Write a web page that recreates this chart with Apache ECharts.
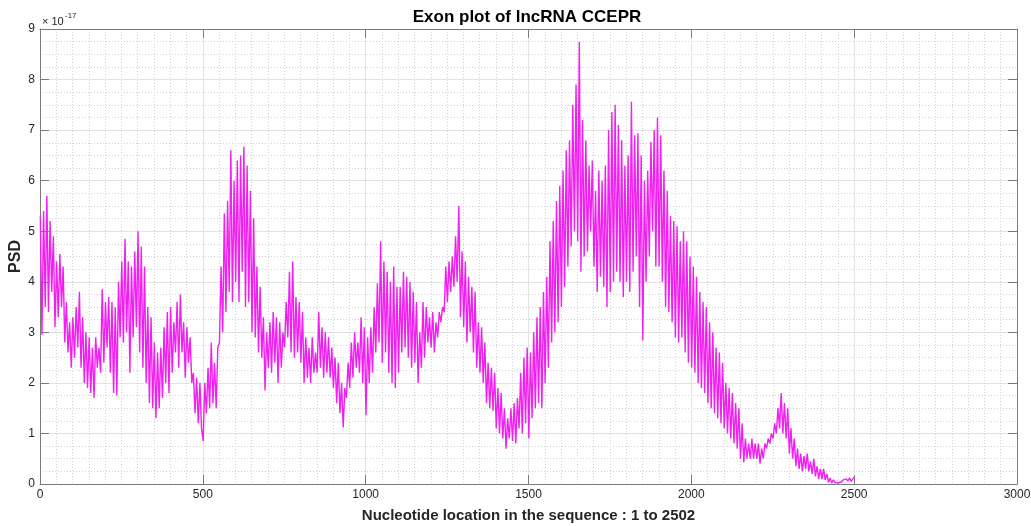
<!DOCTYPE html>
<html>
<head>
<meta charset="utf-8">
<title>Exon plot of lncRNA CCEPR</title>
<script src="https://cdn.jsdelivr.net/npm/echarts@6/dist/echarts.min.js"></script>
<style>
  html, body { margin: 0; padding: 0; background: #ffffff; }
  #chart { width: 1031px; height: 526px; }
</style>
</head>
<body>
<div id="chart"></div>
<script>
// Power spectral density along the sequence, in units of 1e-17,
// sampled every 5 nucleotides starting at position 1.
const startPos = 1;
const stepNt = 5;
const psd = [
  5.3,2.95,5.4,3.5,5.7,3.4,5.2,3.8,4.9,3.1,4.4,3.3,4.55,3.5,4.3,2.8,3.6,2.6,3.2,2.3,
  3.3,2.5,3.5,2.7,3.8,2.3,3.3,2.0,3.0,1.9,2.9,1.8,2.7,1.7,2.9,2.3,2.7,2.2,3.85,2.4,
  3.6,2.7,3.7,2.2,3.6,1.8,3.5,1.75,4.0,2.9,4.4,2.8,4.85,3.0,4.4,2.2,4.3,2.9,4.6,3.1,
  5.0,2.6,4.7,2.3,4.3,2.0,3.5,1.6,3.3,1.5,2.8,1.3,2.6,1.5,2.7,1.7,3.1,2.0,3.4,1.8,
  3.5,2.2,3.2,2.6,3.6,2.3,3.75,2.6,3.2,2.1,3.1,2.4,2.9,2.0,2.2,1.4,2.1,1.2,2.0,1.1,
  0.85,2.0,1.4,2.3,1.5,2.8,1.6,2.4,1.5,2.7,2.8,4.3,3.0,5.35,3.4,5.6,3.8,6.6,3.6,6.0,
  4.0,6.4,3.6,6.5,4.2,6.67,3.5,6.3,3.6,5.8,3.0,5.26,2.9,4.3,2.6,3.9,2.5,3.3,1.85,3.0,
  2.3,3.2,2.2,3.4,2.4,3.3,2.0,3.2,2.3,3.0,2.7,3.6,2.9,4.2,2.6,4.4,2.5,3.7,2.6,3.6,
  2.4,3.4,2.0,2.9,2.1,2.7,2.0,2.9,2.2,2.6,2.2,3.4,2.3,3.1,2.1,3.0,2.2,2.9,2.1,2.7,
  1.9,2.5,1.6,2.4,1.4,2.0,1.12,1.9,1.7,2.4,1.9,2.8,2.1,3.0,2.3,2.8,2.2,3.3,2.0,3.1,
  1.36,2.9,2.0,3.1,2.2,3.5,2.6,3.97,2.8,4.8,2.4,4.4,2.6,4.2,2.2,4.0,2.0,4.3,1.9,3.9,
  2.2,3.9,2.6,4.2,2.7,4.1,2.5,4.0,2.3,3.8,2.4,3.6,2.0,3.0,2.3,3.6,2.5,3.5,2.8,3.3,
  2.7,3.4,2.6,3.2,2.9,3.4,3.2,3.5,3.4,4.3,3.6,4.4,3.8,4.5,3.9,4.9,4.0,5.5,3.3,4.6,
  3.1,4.4,2.8,4.1,3.0,3.9,2.6,3.8,2.3,3.2,2.2,3.1,2.0,2.8,1.6,2.4,1.5,2.3,1.45,2.2,
  1.1,1.9,1.0,1.8,0.9,1.5,0.7,1.3,0.9,1.5,0.85,1.6,0.8,1.7,1.1,2.2,1.0,2.5,1.2,2.7,
  0.9,2.6,1.3,3.0,1.5,3.3,1.6,3.5,1.5,3.8,2.0,4.1,2.3,4.8,2.8,5.2,3.0,5.6,3.2,5.9,
  3.5,6.2,3.9,6.6,4.3,6.8,4.7,7.5,5.0,7.9,4.8,8.75,4.2,7.2,4.5,6.8,4.6,6.3,5.0,6.4,
  4.3,5.8,3.8,6.2,4.1,6.0,3.9,6.3,3.5,7.0,3.8,7.36,4.0,7.5,4.2,7.1,4.0,6.8,3.7,6.3,
  4.0,6.5,3.8,7.56,4.2,6.9,4.5,6.94,3.5,6.5,2.84,6.0,4.0,6.2,4.5,6.77,5.0,7.0,4.3,7.25,
  4.3,6.9,4.0,6.2,3.5,5.8,3.4,5.3,3.2,5.2,2.9,5.1,2.8,4.8,2.9,5.0,2.6,4.8,2.4,4.5,
  2.3,4.3,2.2,4.1,2.0,3.8,1.9,3.6,1.8,3.5,1.6,3.2,1.5,3.0,1.4,2.7,1.3,2.6,1.2,2.4,
  1.1,2.0,1.0,1.9,0.9,1.8,0.8,1.6,0.7,1.5,0.5,1.2,0.43,0.9,0.5,0.8,0.5,0.9,0.5,0.8,
  0.5,0.8,0.4,0.7,0.5,0.8,0.7,0.9,0.8,1.0,0.9,1.2,1.0,1.5,1.1,1.8,1.0,1.6,0.9,1.5,
  0.6,1.1,0.5,0.9,0.35,0.7,0.3,0.6,0.25,0.55,0.3,0.6,0.25,0.45,0.2,0.5,0.15,0.35,0.1,0.3,
  0.1,0.3,0.08,0.2,0.03,0.12,0.02,0.08,0.03,0.06,0.02,0.05,0.04,0.08,0.05,0.1,0.06,0.12,0.05,0.1,
  0.14
];

// Axis ranges and tick spacing
const xRange = [0, 3000];
const xStep = 500;
const yRange = [0, 9];
const yStep = 1;

const titleText = 'Exon plot of lncRNA CCEPR';
const xLabel = 'Nucleotide location in the sequence : 1 to 2502';
const yLabel = 'PSD';
const yExponent = '-17';

const FONT = '"Liberation Sans", Arial, Helvetica, sans-serif';
const AXIS_COLOR = '#7a7a7a';
const TEXT_COLOR = '#262626';

const seriesData = psd.map((v, i) => [startPos + i * stepNt, v]);

function mainAxis(extra) {
  return Object.assign({
    type: 'value',
    axisLine: { show: true, onZero: false, lineStyle: { color: AXIS_COLOR, width: 1 } },
    axisTick: { show: true, inside: true, length: 9, lineStyle: { color: AXIS_COLOR } },
    axisLabel: { color: TEXT_COLOR, fontFamily: FONT, fontSize: 12, margin: 5, formatter: v => String(v) },
    splitLine: { show: true, lineStyle: { color: '#e3e3e3', width: 1 } },
    minorTick: { show: false },
    minorSplitLine: { show: true, lineStyle: { color: '#d2d2d2', width: 1, type: [1, 2] } }
  }, extra);
}

function boxAxis(extra) {
  return Object.assign({
    type: 'value',
    axisLine: { show: true, onZero: false, lineStyle: { color: AXIS_COLOR, width: 1 } },
    axisTick: { show: true, inside: true, length: 9, lineStyle: { color: AXIS_COLOR } },
    axisLabel: { show: false },
    splitLine: { show: false }
  }, extra);
}

const chart = echarts.init(document.getElementById('chart'), null, { renderer: 'canvas' });

chart.setOption({
  animation: false,
  backgroundColor: '#ffffff',
  title: {
    text: titleText,
    left: 522,
    textAlign: 'center',
    top: 4,
    textStyle: { fontFamily: FONT, fontSize: 17, fontWeight: 'bold', color: '#000000' }
  },
  grid: {
    left: 40, right: 14, top: 29, bottom: 42,
    containLabel: false,
    outerBoundsMode: 'none'
  },
  xAxis: [
    mainAxis({
      position: 'bottom',
      min: xRange[0], max: xRange[1], interval: xStep,
      minorTick: { show: false, splitNumber: 10 },
      name: xLabel,
      nameLocation: 'middle',
      nameGap: 24,
      nameTextStyle: { fontFamily: FONT, fontSize: 15, fontWeight: 'bold', color: TEXT_COLOR }
    }),
    boxAxis({ position: 'top', min: xRange[0], max: xRange[1], interval: xStep })
  ],
  yAxis: [
    mainAxis({
      position: 'left',
      min: yRange[0], max: yRange[1], interval: yStep,
      minorTick: { show: false, splitNumber: 4 },
      name: yLabel,
      nameLocation: 'middle',
      nameGap: 16,
      nameRotate: 90,
      nameMoveOverlap: false,
      nameTextStyle: { fontFamily: FONT, fontSize: 16, fontWeight: 'bold', color: TEXT_COLOR }
    }),
    boxAxis({ position: 'right', min: yRange[0], max: yRange[1], interval: yStep })
  ],
  graphic: [
    {
      type: 'text', left: 42, top: 16,
      style: { text: '\u00d7 10', font: '11px ' + FONT, fill: TEXT_COLOR }
    },
    {
      type: 'text', left: 65, top: 12,
      style: { text: yExponent, font: '8px ' + FONT, fill: TEXT_COLOR }
    }
  ],
  series: [{
    type: 'line',
    xAxisIndex: 0,
    yAxisIndex: 0,
    data: seriesData,
    showSymbol: false,
    symbol: 'none',
    sampling: null,
    silent: true,
    lineStyle: { color: '#f020f0', width: 1.4 }
  }]
});
</script>
</body>
</html>
